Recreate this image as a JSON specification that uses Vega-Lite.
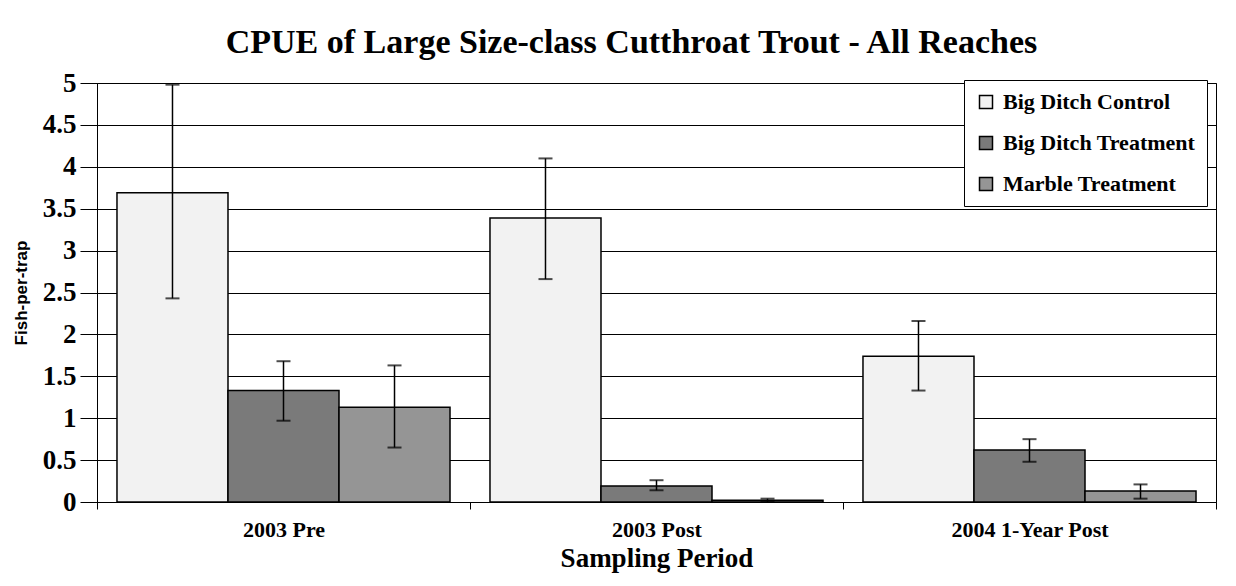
{
  "$schema": "https://vega.github.io/schema/vega-lite/v6.json",
  "width": 1119,
  "height": 419,
  "autosize": {"type": "none"},
  "padding": {"left": 97, "top": 83, "right": 20, "bottom": 84},
  "background": "white",
  "title": {
    "text": "CPUE of Large Size-class Cutthroat Trout - All Reaches",
    "font": "Liberation Serif",
    "fontSize": 34,
    "fontWeight": "bold",
    "color": "black",
    "anchor": "middle",
    "offset": 9,
    "dx": -25
  },
  "data": {
    "values": [
      {"period": "2003 Pre", "series": "Big Ditch Control", "value": 3.69, "lo": 2.43, "hi": 4.98},
      {"period": "2003 Pre", "series": "Big Ditch Treatment", "value": 1.33, "lo": 0.97, "hi": 1.68},
      {"period": "2003 Pre", "series": "Marble Treatment", "value": 1.13, "lo": 0.65, "hi": 1.63},
      {"period": "2003 Post", "series": "Big Ditch Control", "value": 3.39, "lo": 2.66, "hi": 4.1},
      {"period": "2003 Post", "series": "Big Ditch Treatment", "value": 0.19, "lo": 0.14, "hi": 0.26},
      {"period": "2003 Post", "series": "Marble Treatment", "value": 0.02, "lo": 0.0, "hi": 0.04},
      {"period": "2004 1-Year Post", "series": "Big Ditch Control", "value": 1.74, "lo": 1.33, "hi": 2.16},
      {"period": "2004 1-Year Post", "series": "Big Ditch Treatment", "value": 0.62, "lo": 0.48, "hi": 0.75},
      {"period": "2004 1-Year Post", "series": "Marble Treatment", "value": 0.13, "lo": 0.04, "hi": 0.21}
    ]
  },
  "encoding": {
    "x": {
      "field": "period",
      "type": "nominal",
      "sort": ["2003 Pre", "2003 Post", "2004 1-Year Post"],
      "scale": {"paddingInner": 0, "paddingOuter": 0},
      "axis": {
        "title": "Sampling Period",
        "titleFont": "Liberation Serif",
        "titleFontSize": 27,
        "titleFontWeight": "bold",
        "titleColor": "black",
        "titlePadding": 5,
        "labelFont": "Liberation Serif",
        "labelFontSize": 22,
        "labelFontWeight": "bold",
        "labelColor": "black",
        "labelAngle": 0,
        "labelPadding": 10,
        "tickBand": "extent",
        "tickSize": 7,
        "tickColor": "black",
        "domainColor": "black",
        "grid": false
      }
    },
    "xOffset": {
      "field": "series",
      "sort": ["Big Ditch Control", "Big Ditch Treatment", "Marble Treatment"],
      "scale": {"paddingInner": 0, "paddingOuter": 0.18}
    }
  },
  "layer": [
    {
      "mark": {"type": "bar", "stroke": "black", "strokeWidth": 1.5, "opacity": 1},
      "encoding": {
        "y": {
          "field": "value",
          "type": "quantitative",
          "scale": {"domain": [0, 5], "nice": false},
          "axis": {
            "title": "Fish-per-trap",
            "titleFont": "Liberation Sans",
            "titleFontSize": 17,
            "titleFontWeight": "bold",
            "titleColor": "black",
            "titlePadding": 12,
            "values": [0, 0.5, 1, 1.5, 2, 2.5, 3, 3.5, 4, 4.5, 5],
            "format": "~g",
            "labelFont": "Liberation Serif",
            "labelFontSize": 27,
            "labelFontWeight": "bold",
            "labelColor": "black",
            "labelPadding": 4,
            "tickSize": 17,
            "tickColor": "black",
            "domainColor": "black",
            "grid": true,
            "gridColor": "black",
            "gridOpacity": 1
          }
        },
        "color": {
          "field": "series",
          "type": "nominal",
          "scale": {
            "domain": ["Big Ditch Control", "Big Ditch Treatment", "Marble Treatment"],
            "range": ["#f2f2f2", "#7a7a7a", "#959595"]
          },
          "legend": {
            "orient": "none",
            "legendX": 867,
            "legendY": -3,
            "title": null,
            "direction": "vertical",
            "symbolType": "square",
            "symbolSize": 169,
            "symbolStrokeColor": "black",
            "symbolStrokeWidth": 1.5,
            "symbolOpacity": 1,
            "labelFont": "Liberation Serif",
            "labelFontWeight": "bold",
            "labelFontSize": 22,
            "labelColor": "black",
            "labelLimit": 300,
            "labelOffset": 6,
            "rowPadding": 19,
            "padding": 11,
            "strokeColor": "black",
            "fillColor": "white"
          }
        }
      }
    },
    {
      "mark": {"type": "rule", "color": "black", "strokeWidth": 1.5},
      "encoding": {
        "y": {"field": "lo", "type": "quantitative"},
        "y2": {"field": "hi"}
      }
    },
    {
      "mark": {"type": "tick", "color": "black", "size": 14, "thickness": 2, "orient": "horizontal"},
      "encoding": {
        "y": {"field": "hi", "type": "quantitative"}
      }
    },
    {
      "mark": {"type": "tick", "color": "black", "size": 14, "thickness": 2, "orient": "horizontal"},
      "encoding": {
        "y": {"field": "lo", "type": "quantitative"}
      }
    }
  ],
  "config": {
    "view": {"stroke": "black", "strokeWidth": 1},
    "axis": {"domainWidth": 1, "tickWidth": 1}
  }
}
